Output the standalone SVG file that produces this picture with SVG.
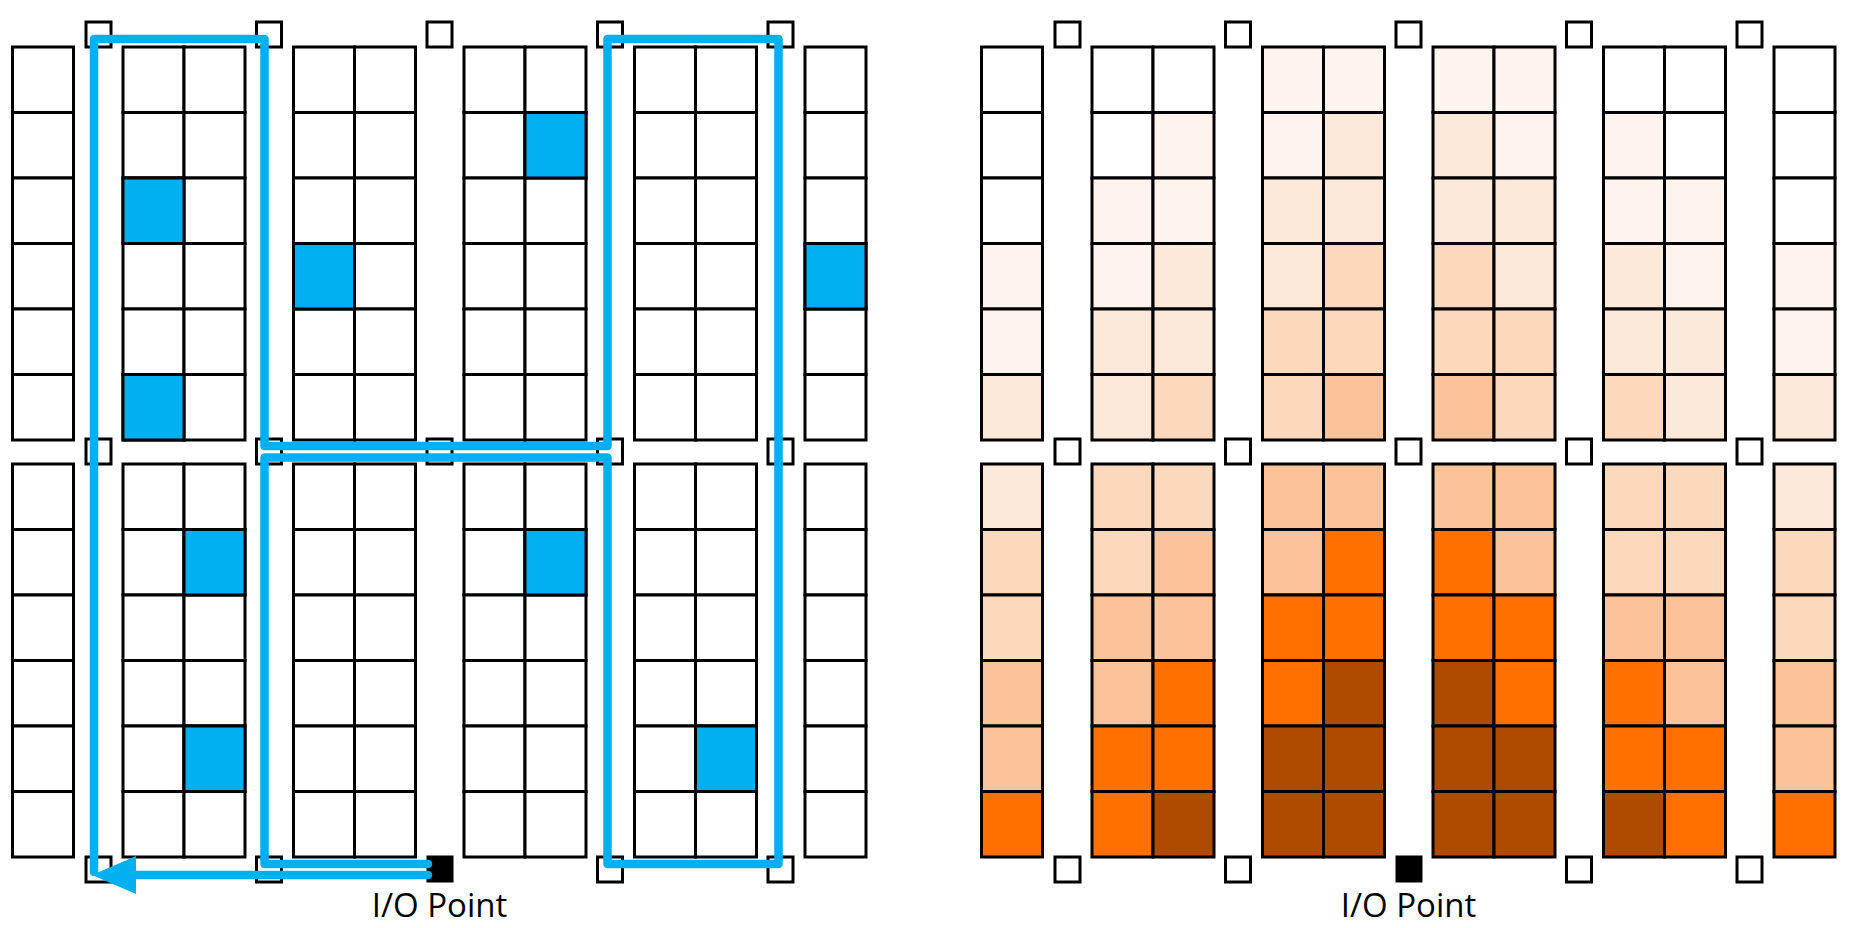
<svg xmlns="http://www.w3.org/2000/svg" xmlns:xlink="http://www.w3.org/1999/xlink" width="1850" height="928" viewBox="0 0 1850 928">
<style>
.c{stroke:#000;stroke-width:3;fill:#fff}
.sq{fill:#fff;stroke:#000;stroke-width:3}
.io{fill:#000;stroke:#000;stroke-width:3}
.b{fill:#00B0F0}
.l1{fill:#FEF4ED}.l2{fill:#FDE9D9}.l3{fill:#FCD8BC}.l4{fill:#FBC399}.l5{fill:#FF7000}.l6{fill:#AF4A00}
.route{fill:none;stroke:#00B0F0;stroke-width:8.5;stroke-linejoin:round;stroke-linecap:round}
.lbl{font-family:"Open Sans","Liberation Sans",sans-serif;font-size:33px;fill:#000;text-anchor:middle}
</style>
<defs>
<g id="col">
<rect class="c" x="0" y="0" width="61" height="65.5"/>
<rect class="c" x="0" y="65.5" width="61" height="65.5"/>
<rect class="c" x="0" y="131" width="61" height="65.5"/>
<rect class="c" x="0" y="196.5" width="61" height="65.5"/>
<rect class="c" x="0" y="262" width="61" height="65.5"/>
<rect class="c" x="0" y="327.5" width="61" height="65.5"/>
</g>
<g id="squares">
<rect class="sq" x="86" y="0" width="25" height="25"/>
<rect class="sq" x="256.5" y="0" width="25" height="25"/>
<rect class="sq" x="427" y="0" width="25" height="25"/>
<rect class="sq" x="597.5" y="0" width="25" height="25"/>
<rect class="sq" x="768" y="0" width="25" height="25"/>
</g>
</defs>
<rect width="1850" height="928" fill="#fff"/>

<g id="left-diagram">
<g id="L-top-racks">
<use xlink:href="#col" x="12.5" y="47"/>
<use xlink:href="#col" x="123" y="47"/><use xlink:href="#col" x="184" y="47"/>
<use xlink:href="#col" x="293.5" y="47"/><use xlink:href="#col" x="354.5" y="47"/>
<use xlink:href="#col" x="464" y="47"/><use xlink:href="#col" x="525" y="47"/>
<use xlink:href="#col" x="634.5" y="47"/><use xlink:href="#col" x="695.5" y="47"/>
<use xlink:href="#col" x="805" y="47"/>
<rect class="c b" x="123" y="178" width="61" height="65.5"/>
<rect class="c b" x="123" y="374.5" width="61" height="65.5"/>
<rect class="c b" x="293.5" y="243.5" width="61" height="65.5"/>
<rect class="c b" x="525" y="112.5" width="61" height="65.5"/>
<rect class="c b" x="805" y="243.5" width="61" height="65.5"/>
</g>
<g id="L-bottom-racks">
<use xlink:href="#col" x="12.5" y="464"/>
<use xlink:href="#col" x="123" y="464"/><use xlink:href="#col" x="184" y="464"/>
<use xlink:href="#col" x="293.5" y="464"/><use xlink:href="#col" x="354.5" y="464"/>
<use xlink:href="#col" x="464" y="464"/><use xlink:href="#col" x="525" y="464"/>
<use xlink:href="#col" x="634.5" y="464"/><use xlink:href="#col" x="695.5" y="464"/>
<use xlink:href="#col" x="805" y="464"/>
<rect class="c b" x="184" y="529.5" width="61" height="65.5"/>
<rect class="c b" x="184" y="726" width="61" height="65.5"/>
<rect class="c b" x="525" y="529.5" width="61" height="65.5"/>
<rect class="c b" x="695.5" y="726" width="61" height="65.5"/>
</g>
<g id="L-aisle-points">
<use xlink:href="#squares" x="0" y="22"/>
<use xlink:href="#squares" x="0" y="439"/>
<rect class="sq" x="86" y="857" width="25" height="25"/>
<rect class="sq" x="256.5" y="857" width="25" height="25"/>
<rect class="sq" x="597.5" y="857" width="25" height="25"/>
<rect class="sq" x="768" y="857" width="25" height="25"/>
</g>
<g id="L-io">
<rect class="io" x="428" y="857" width="24" height="24"/>
<text class="lbl" x="439.5" y="917">I/O Point</text>
</g>
</g>

<g id="connectors">
<path class="route" d="M428,864 H264.5 V457.5 H607.5 V864 H778.5 V39 H607.5 V446 H264.5 V39 H94 V872"/>
<path class="route" d="M428,875 H130"/>
<polygon points="92,875 136,856 136,894" fill="#00B0F0"/>
</g>

<g id="right-diagram" transform="translate(969 0)">
<g id="R-top-racks">
<g transform="translate(12.5 47)">
<rect class="c" x="0" y="0" width="61" height="65.5"/><rect class="c" x="0" y="65.5" width="61" height="65.5"/><rect class="c" x="0" y="131" width="61" height="65.5"/><rect class="c l1" x="0" y="196.5" width="61" height="65.5"/><rect class="c l1" x="0" y="262" width="61" height="65.5"/><rect class="c l2" x="0" y="327.5" width="61" height="65.5"/>
</g>
<g transform="translate(123 47)">
<rect class="c" x="0" y="0" width="61" height="65.5"/><rect class="c" x="0" y="65.5" width="61" height="65.5"/><rect class="c l1" x="0" y="131" width="61" height="65.5"/><rect class="c l1" x="0" y="196.5" width="61" height="65.5"/><rect class="c l2" x="0" y="262" width="61" height="65.5"/><rect class="c l2" x="0" y="327.5" width="61" height="65.5"/>
<rect class="c" x="61" y="0" width="61" height="65.5"/><rect class="c l1" x="61" y="65.5" width="61" height="65.5"/><rect class="c l1" x="61" y="131" width="61" height="65.5"/><rect class="c l2" x="61" y="196.5" width="61" height="65.5"/><rect class="c l2" x="61" y="262" width="61" height="65.5"/><rect class="c l3" x="61" y="327.5" width="61" height="65.5"/>
</g>
<g transform="translate(293.5 47)">
<rect class="c l1" x="0" y="0" width="61" height="65.5"/><rect class="c l1" x="0" y="65.5" width="61" height="65.5"/><rect class="c l2" x="0" y="131" width="61" height="65.5"/><rect class="c l2" x="0" y="196.5" width="61" height="65.5"/><rect class="c l3" x="0" y="262" width="61" height="65.5"/><rect class="c l3" x="0" y="327.5" width="61" height="65.5"/>
<rect class="c l1" x="61" y="0" width="61" height="65.5"/><rect class="c l2" x="61" y="65.5" width="61" height="65.5"/><rect class="c l2" x="61" y="131" width="61" height="65.5"/><rect class="c l3" x="61" y="196.5" width="61" height="65.5"/><rect class="c l3" x="61" y="262" width="61" height="65.5"/><rect class="c l4" x="61" y="327.5" width="61" height="65.5"/>
</g>
<g transform="translate(464 47)">
<rect class="c l1" x="0" y="0" width="61" height="65.5"/><rect class="c l2" x="0" y="65.5" width="61" height="65.5"/><rect class="c l2" x="0" y="131" width="61" height="65.5"/><rect class="c l3" x="0" y="196.5" width="61" height="65.5"/><rect class="c l3" x="0" y="262" width="61" height="65.5"/><rect class="c l4" x="0" y="327.5" width="61" height="65.5"/>
<rect class="c l1" x="61" y="0" width="61" height="65.5"/><rect class="c l1" x="61" y="65.5" width="61" height="65.5"/><rect class="c l2" x="61" y="131" width="61" height="65.5"/><rect class="c l2" x="61" y="196.5" width="61" height="65.5"/><rect class="c l3" x="61" y="262" width="61" height="65.5"/><rect class="c l3" x="61" y="327.5" width="61" height="65.5"/>
</g>
<g transform="translate(634.5 47)">
<rect class="c" x="0" y="0" width="61" height="65.5"/><rect class="c l1" x="0" y="65.5" width="61" height="65.5"/><rect class="c l1" x="0" y="131" width="61" height="65.5"/><rect class="c l2" x="0" y="196.5" width="61" height="65.5"/><rect class="c l2" x="0" y="262" width="61" height="65.5"/><rect class="c l3" x="0" y="327.5" width="61" height="65.5"/>
<rect class="c" x="61" y="0" width="61" height="65.5"/><rect class="c" x="61" y="65.5" width="61" height="65.5"/><rect class="c l1" x="61" y="131" width="61" height="65.5"/><rect class="c l1" x="61" y="196.5" width="61" height="65.5"/><rect class="c l2" x="61" y="262" width="61" height="65.5"/><rect class="c l2" x="61" y="327.5" width="61" height="65.5"/>
</g>
<g transform="translate(805 47)">
<rect class="c" x="0" y="0" width="61" height="65.5"/><rect class="c" x="0" y="65.5" width="61" height="65.5"/><rect class="c" x="0" y="131" width="61" height="65.5"/><rect class="c l1" x="0" y="196.5" width="61" height="65.5"/><rect class="c l1" x="0" y="262" width="61" height="65.5"/><rect class="c l2" x="0" y="327.5" width="61" height="65.5"/>
</g>
</g>
<g id="R-bottom-racks">
<g transform="translate(12.5 464)">
<rect class="c l2" x="0" y="0" width="61" height="65.5"/><rect class="c l3" x="0" y="65.5" width="61" height="65.5"/><rect class="c l3" x="0" y="131" width="61" height="65.5"/><rect class="c l4" x="0" y="196.5" width="61" height="65.5"/><rect class="c l4" x="0" y="262" width="61" height="65.5"/><rect class="c l5" x="0" y="327.5" width="61" height="65.5"/>
</g>
<g transform="translate(123 464)">
<rect class="c l3" x="0" y="0" width="61" height="65.5"/><rect class="c l3" x="0" y="65.5" width="61" height="65.5"/><rect class="c l4" x="0" y="131" width="61" height="65.5"/><rect class="c l4" x="0" y="196.5" width="61" height="65.5"/><rect class="c l5" x="0" y="262" width="61" height="65.5"/><rect class="c l5" x="0" y="327.5" width="61" height="65.5"/>
<rect class="c l3" x="61" y="0" width="61" height="65.5"/><rect class="c l4" x="61" y="65.5" width="61" height="65.5"/><rect class="c l4" x="61" y="131" width="61" height="65.5"/><rect class="c l5" x="61" y="196.5" width="61" height="65.5"/><rect class="c l5" x="61" y="262" width="61" height="65.5"/><rect class="c l6" x="61" y="327.5" width="61" height="65.5"/>
</g>
<g transform="translate(293.5 464)">
<rect class="c l4" x="0" y="0" width="61" height="65.5"/><rect class="c l4" x="0" y="65.5" width="61" height="65.5"/><rect class="c l5" x="0" y="131" width="61" height="65.5"/><rect class="c l5" x="0" y="196.5" width="61" height="65.5"/><rect class="c l6" x="0" y="262" width="61" height="65.5"/><rect class="c l6" x="0" y="327.5" width="61" height="65.5"/>
<rect class="c l4" x="61" y="0" width="61" height="65.5"/><rect class="c l5" x="61" y="65.5" width="61" height="65.5"/><rect class="c l5" x="61" y="131" width="61" height="65.5"/><rect class="c l6" x="61" y="196.5" width="61" height="65.5"/><rect class="c l6" x="61" y="262" width="61" height="65.5"/><rect class="c l6" x="61" y="327.5" width="61" height="65.5"/>
</g>
<g transform="translate(464 464)">
<rect class="c l4" x="0" y="0" width="61" height="65.5"/><rect class="c l5" x="0" y="65.5" width="61" height="65.5"/><rect class="c l5" x="0" y="131" width="61" height="65.5"/><rect class="c l6" x="0" y="196.5" width="61" height="65.5"/><rect class="c l6" x="0" y="262" width="61" height="65.5"/><rect class="c l6" x="0" y="327.5" width="61" height="65.5"/>
<rect class="c l4" x="61" y="0" width="61" height="65.5"/><rect class="c l4" x="61" y="65.5" width="61" height="65.5"/><rect class="c l5" x="61" y="131" width="61" height="65.5"/><rect class="c l5" x="61" y="196.5" width="61" height="65.5"/><rect class="c l6" x="61" y="262" width="61" height="65.5"/><rect class="c l6" x="61" y="327.5" width="61" height="65.5"/>
</g>
<g transform="translate(634.5 464)">
<rect class="c l3" x="0" y="0" width="61" height="65.5"/><rect class="c l3" x="0" y="65.5" width="61" height="65.5"/><rect class="c l4" x="0" y="131" width="61" height="65.5"/><rect class="c l5" x="0" y="196.5" width="61" height="65.5"/><rect class="c l5" x="0" y="262" width="61" height="65.5"/><rect class="c l6" x="0" y="327.5" width="61" height="65.5"/>
<rect class="c l3" x="61" y="0" width="61" height="65.5"/><rect class="c l3" x="61" y="65.5" width="61" height="65.5"/><rect class="c l4" x="61" y="131" width="61" height="65.5"/><rect class="c l4" x="61" y="196.5" width="61" height="65.5"/><rect class="c l5" x="61" y="262" width="61" height="65.5"/><rect class="c l5" x="61" y="327.5" width="61" height="65.5"/>
</g>
<g transform="translate(805 464)">
<rect class="c l2" x="0" y="0" width="61" height="65.5"/><rect class="c l3" x="0" y="65.5" width="61" height="65.5"/><rect class="c l3" x="0" y="131" width="61" height="65.5"/><rect class="c l4" x="0" y="196.5" width="61" height="65.5"/><rect class="c l4" x="0" y="262" width="61" height="65.5"/><rect class="c l5" x="0" y="327.5" width="61" height="65.5"/>
</g>
</g>
<g id="R-aisle-points">
<use xlink:href="#squares" x="0" y="22"/>
<use xlink:href="#squares" x="0" y="439"/>
<rect class="sq" x="86" y="857" width="25" height="25"/>
<rect class="sq" x="256.5" y="857" width="25" height="25"/>
<rect class="sq" x="597.5" y="857" width="25" height="25"/>
<rect class="sq" x="768" y="857" width="25" height="25"/>
</g>
<g id="R-io">
<rect class="io" x="428" y="857" width="24" height="24"/>
<text class="lbl" x="439.5" y="917">I/O Point</text>
</g>
</g>
</svg>
